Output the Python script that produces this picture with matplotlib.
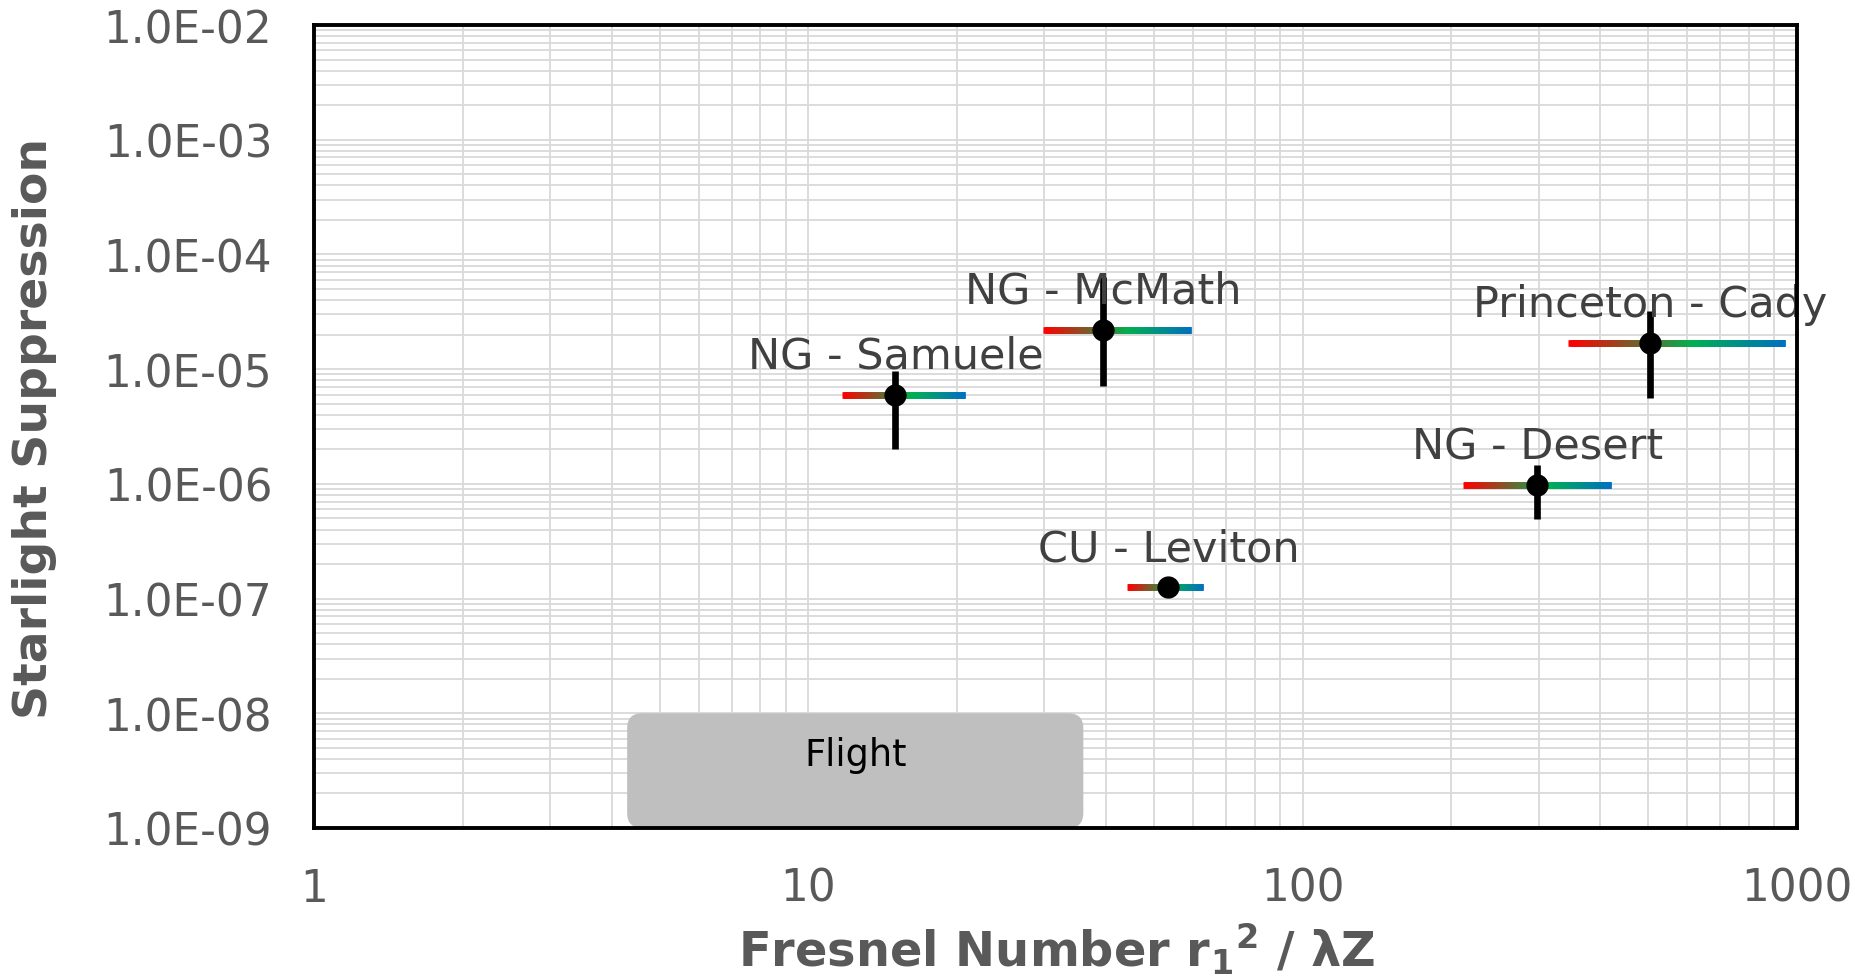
import numpy as np
import matplotlib
matplotlib.use("Agg")
import matplotlib.pyplot as plt
from matplotlib.collections import LineCollection
from matplotlib.colors import LinearSegmentedColormap
from matplotlib.patches import FancyBboxPatch
from matplotlib.ticker import LogLocator, NullFormatter, FixedLocator, FixedFormatter

plt.rcParams['font.family'] = ['DejaVu Sans']
plt.rcParams['mathtext.fontset'] = 'dejavusans'

# ---- data ----
names = ["NG - Samuele", "NG - McMath", "CU - Leviton", "NG - Desert", "Princeton - Cady"]
x_val = [15.0, 39.5, 53.5, 298.0, 504.0]
x_lo = [11.7, 29.9, 44.1, 211.0, 344.0]
x_hi = [20.7, 59.5, 62.9, 421.0, 946.0]
y_val = [6.0e-6, 2.2e-5, 1.25e-7, 9.7e-7, 1.7e-5]
y_lo = [2.0e-6, 7.1e-6, 1.25e-7, 4.9e-7, 5.6e-6]
y_hi = [9.6e-6, 6.4e-5, 1.25e-7, 1.46e-6, 3.2e-5]

flight_x = [4.3, 36.0]
flight_y = [1.0e-9, 1.0e-8]
flight_label = "Flight"

x_ticks = [1, 10, 100, 1000]
x_ticklabels = ["1", "10", "100", "1000"]
y_ticks = [1e-9, 1e-8, 1e-7, 1e-6, 1e-5, 1e-4, 1e-3, 1e-2]
y_ticklabels = ["1.0E-09", "1.0E-08", "1.0E-07", "1.0E-06", "1.0E-05", "1.0E-04", "1.0E-03", "1.0E-02"]

W, H = 1860, 978
fig = plt.figure(figsize=(W / 100, H / 100), dpi=100)
ax_l, ax_b, ax_w, ax_h = 314 / W, 1 - 829 / H, (1797 - 314) / W, (829 - 26) / H
ax = fig.add_axes([ax_l, ax_b, ax_w, ax_h])
ax.set_xscale('log')
ax.set_yscale('log')
ax.set_xlim(1, 1000)
ax.set_ylim(1e-9, 1e-2)

ax.xaxis.set_major_locator(FixedLocator(x_ticks))
ax.xaxis.set_major_formatter(FixedFormatter(x_ticklabels))
ax.yaxis.set_major_locator(FixedLocator(y_ticks))
ax.yaxis.set_major_formatter(FixedFormatter(y_ticklabels))
for a in (ax.xaxis, ax.yaxis):
    a.set_minor_locator(LogLocator(base=10, subs=np.arange(2, 10), numticks=100))
    a.set_minor_formatter(NullFormatter())

ax.grid(which='both', color='#d9d9d9', linewidth=1.3, zorder=0)
ax.set_axisbelow(True)
ax.tick_params(which='both', length=0)
ax.tick_params(axis='x', pad=28, labelsize=31.5, labelcolor='#595959')
ax.tick_params(axis='y', pad=30, labelsize=31.5, labelcolor='#595959')
for s in ax.spines.values():
    s.set_color('black')
    s.set_linewidth(2.8)
    s.set_zorder(10)

# gradient colormap
cmap = LinearSegmentedColormap.from_list(
    "rgb", [(0.0, "#ff0000"), (0.57, "#00b050"), (1.0, "#0070c0")])

N = 120
for i in range(len(names)):
    xs = np.logspace(np.log10(x_lo[i]), np.log10(x_hi[i]), N + 1)
    # overlapping segments avoid anti-aliasing seams
    segs = [[(xs[k], y_val[i]), (xs[min(k + 3, N)], y_val[i])] for k in range(N)]
    cols = cmap(np.linspace(0, 1, N))
    lc = LineCollection(segs, colors=cols, linewidths=4.8, capstyle='butt', zorder=3)
    ax.add_collection(lc)
    if y_hi[i] > y_lo[i]:
        ax.vlines(x_val[i], y_lo[i], y_hi[i], color='black', linewidth=4.8, zorder=4)
    ax.plot([x_val[i]], [y_val[i]], 'o', color='black', markersize=15, zorder=5)
    ax.annotate(names[i], (x_val[i], y_val[i]), xytext=(0, 19.5), textcoords='offset points',
                ha='center', va='baseline', fontsize=31, color='#404040', zorder=6)

# Flight box (rounded, in axes coordinates)
def to_axes(xv, yv):
    d = ax.transData.transform((xv, yv))
    return ax.transAxes.inverted().transform(d)

(fx0, fy0) = to_axes(flight_x[0], flight_y[0])
(fx1, fy1) = to_axes(flight_x[1], flight_y[1])
aspect = (ax_w * W) / (ax_h * H)
r = 15 / (ax_w * W)
box = FancyBboxPatch((fx0, fy0), fx1 - fx0, fy1 - fy0,
                     boxstyle=f"round,pad=0,rounding_size={r}",
                     mutation_aspect=aspect, transform=ax.transAxes,
                     facecolor='#bfbfbf', edgecolor='none', zorder=2, clip_on=False)
ax.add_patch(box)
ax.text((fx0 + fx1) / 2, fy0 + 0.645 * (fy1 - fy0), flight_label, transform=ax.transAxes,
        ha='center', va='center', fontsize=26.5, color='black', zorder=3)

fig.text(1057 / W, 1 - 967 / H, r"Fresnel Number r$_\mathbf{1}$$^\mathbf{2}$ / λZ",
         ha='center', va='baseline', fontsize=34.5, fontweight='bold', color='#595959')
fig.text(35 / W, 1 - 428 / H, "Starlight Suppression", rotation=90,
         ha='center', va='center', fontsize=34, fontweight='bold', color='#595959')

fig.savefig("out.png", dpi=100)
